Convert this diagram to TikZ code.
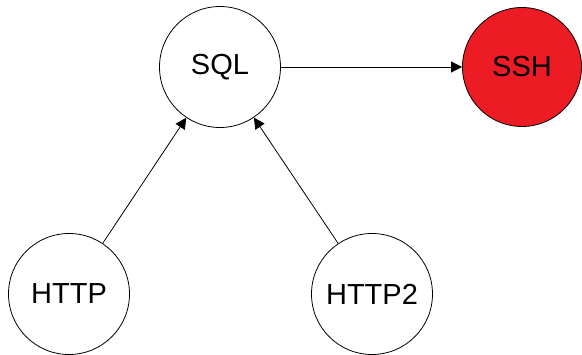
\documentclass[tikz,border=0pt]{standalone}
\usepackage{fontspec}
\setmainfont{Liberation Sans}
\usetikzlibrary{arrows.meta}
\definecolor{sshred}{HTML}{ED1C24}
\tikzset{
  state/.style={circle, draw=black, line width=0.8pt, minimum size=121pt, inner sep=0pt, font=\fontsize{29}{34}\selectfont},
  conn/.style={line width=0.8pt, -{Triangle[length=11pt,width=11pt]}}
}
\begin{document}
\begin{tikzpicture}[x=1pt,y=-1pt]
\useasboundingbox (0,0) rectangle (582,355);
\node[state] (sql) at (220,67) {SQL};
\node[state, fill=sshred, minimum size=119pt] (ssh) at (522,67) {SSH};
\node[state] (http) at (69,294) {HTTP};
\node[state] (http2) at (372,294) {HTTP2};
\draw[conn] (sql) -- (ssh);
\draw[conn] (http) -- (sql);
\draw[conn] (http2) -- (sql);
\end{tikzpicture}
\end{document}
